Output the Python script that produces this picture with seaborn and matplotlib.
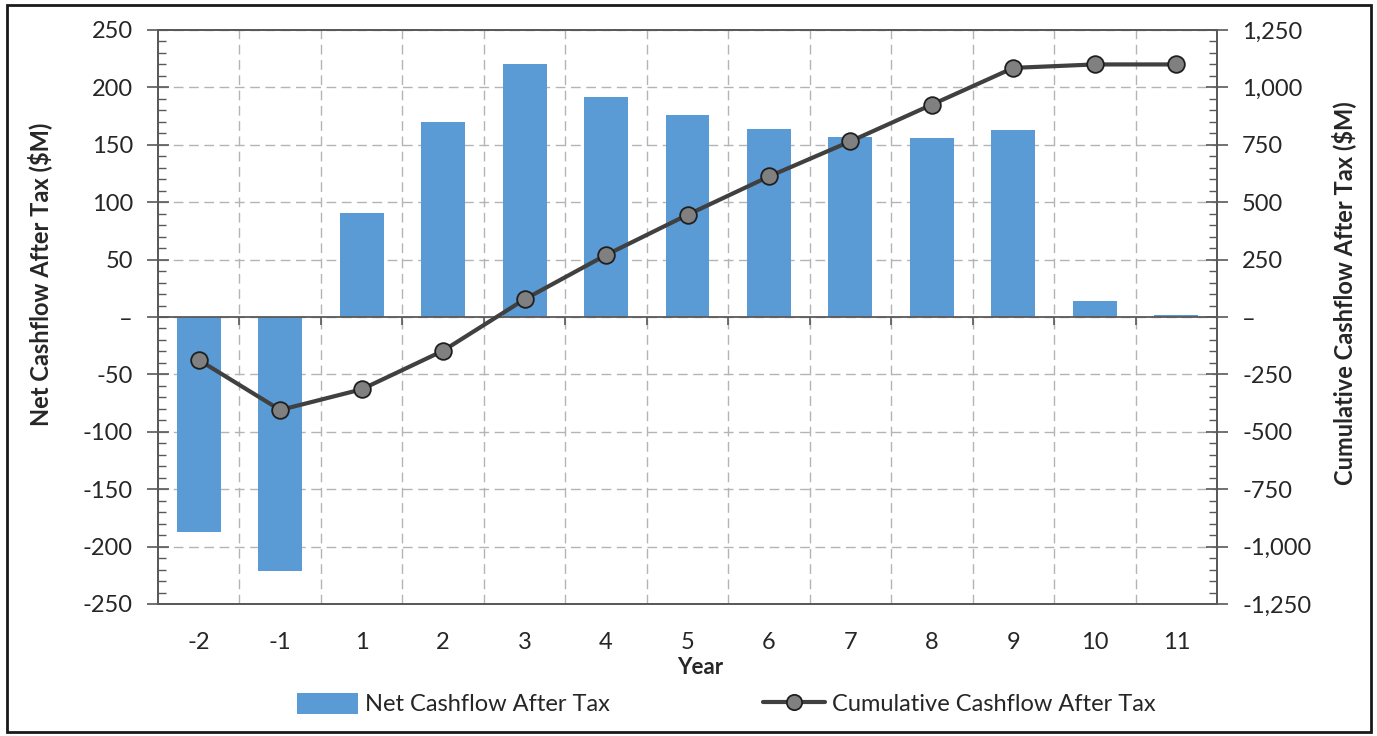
import matplotlib
matplotlib.use("Agg")
import matplotlib.pyplot as plt
import seaborn as sns
import pandas as pd
from matplotlib.ticker import FuncFormatter, MultipleLocator, FixedLocator
from matplotlib.patches import Rectangle, Patch
from matplotlib.lines import Line2D

# Project cash flows ($M)
years = ["-2", "-1", "1", "2", "3", "4", "5", "6", "7", "8", "9", "10", "11"]
net_cashflow = [-187, -221, 91, 170, 220, 192, 176, 164, 157, 156, 163, 14, 1.5]
cumulative_cashflow = [-187, -405, -315, -147, 77, 270, 445, 612, 765, 925, 1085, 1100, 1100]

BAR_COLOR = "#5B9BD5"
LINE_COLOR = "#404040"
AXIS_COLOR = "#595959"
TEXT_COLOR = "#262626"
GRID_COLOR = "#B4B4B4"

sns.set_style("white")
plt.rcParams["font.family"] = ["Lato", "DejaVu Sans"]
plt.rcParams["font.size"] = 16

df = pd.DataFrame({"Year": years, "Net": net_cashflow, "Cumulative": cumulative_cashflow})

W, H = 1377, 736
fig = plt.figure(figsize=(W / 100, H / 100), dpi=100)
ax = fig.add_axes([158 / W, 1 - 604 / H, (1217 - 158) / W, (604 - 30) / H])

sns.barplot(data=df, x="Year", y="Net", order=years, color=BAR_COLOR, saturation=1,
            width=0.54, linewidth=0, ax=ax, zorder=2)

ax2 = ax.twinx()
sns.pointplot(data=df, x="Year", y="Cumulative", order=years, ax=ax2, color=LINE_COLOR,
              markers="o", linestyles="-", linewidth=3, markersize=12,
              markerfacecolor="#808080", markeredgecolor="#1F1F1F", markeredgewidth=1.3,
              errorbar=None)

n = len(years)
boundaries = [i + 0.5 for i in range(n - 1)]

# axes limits and ticks
ax.set_xlim(-0.5, n - 0.5)
ax.set_ylim(-250, 250)
ax2.set_ylim(-1250, 1250)

ax.xaxis.set_major_locator(FixedLocator(range(n)))
ax.set_xticklabels(years)
ax.xaxis.set_minor_locator(FixedLocator(boundaries))
ax.tick_params(axis="x", which="both", length=0, pad=20, labelsize=17, labelcolor=TEXT_COLOR)

ax.yaxis.set_major_locator(MultipleLocator(50))
ax.yaxis.set_minor_locator(MultipleLocator(10))
ax2.yaxis.set_major_locator(MultipleLocator(250))
ax2.yaxis.set_minor_locator(MultipleLocator(50))


def left_fmt(v, _):
    return "\u2013" if abs(v) < 1e-9 else f"{v:.0f}"


def right_fmt(v, _):
    return "\u2013" if abs(v) < 1e-9 else f"{v:,.0f}"


ax.yaxis.set_major_formatter(FuncFormatter(left_fmt))
ax2.yaxis.set_major_formatter(FuncFormatter(right_fmt))

ax.tick_params(axis="y", which="major", direction="inout", length=16, width=1.2,
               color=AXIS_COLOR, pad=10, labelsize=17, labelcolor=TEXT_COLOR, left=True)
ax.tick_params(axis="y", which="minor", direction="in", length=6, width=1,
               color=AXIS_COLOR, left=True)
ax2.tick_params(axis="y", which="major", direction="inout", length=16, width=1.2,
                color=AXIS_COLOR, pad=10, labelsize=17, labelcolor=TEXT_COLOR, right=True)
ax2.tick_params(axis="y", which="minor", direction="in", length=6, width=1,
                color=AXIS_COLOR, right=True)
ax2.tick_params(axis="x", which="both", length=0)

# gridlines
ax.set_axisbelow(True)
dash = (0, (7, 4))
ax.yaxis.grid(True, which="major", color=GRID_COLOR, linestyle=dash, linewidth=1)
ax.xaxis.grid(True, which="minor", color=GRID_COLOR, linestyle=dash, linewidth=1)
ax.xaxis.grid(False, which="major")
ax2.grid(False)

# zero line with category separators
ax.axhline(0, color=AXIS_COLOR, linewidth=1.3, zorder=3)
ax.plot(boundaries, [0] * len(boundaries), linestyle="none", marker=3, markersize=6,
        color=AXIS_COLOR, markeredgewidth=1.2, zorder=3)

for a in (ax, ax2):
    for s in a.spines.values():
        s.set_color(AXIS_COLOR)
        s.set_linewidth(1.3)
        s.set_visible(True)

# axis titles
ax.set_xlabel("Year", fontsize=16, fontweight="bold", color=TEXT_COLOR)
ax.xaxis.set_label_coords((700 - 158) / (1217 - 158), (604 - 657) / 574)
ax.set_ylabel("Net Cashflow After Tax ($M)", fontsize=17, fontweight="bold", color=TEXT_COLOR)
ax.yaxis.set_label_coords((52 - 158) / (1217 - 158), (604 - 274) / 574)
ax2.set_ylabel("Cumulative Cashflow After Tax ($M)", fontsize=17, fontweight="bold",
               color=TEXT_COLOR)
ax2.yaxis.set_label_coords((1331 - 158) / (1217 - 158), (604 - 293) / 574)

# legend
handles = [
    Patch(facecolor=BAR_COLOR, edgecolor="none"),
    Line2D([], [], color=LINE_COLOR, linewidth=3, marker="o", markersize=11,
           markerfacecolor="#808080", markeredgecolor="#1F1F1F", markeredgewidth=1.3),
]
fig.legend(handles, ["Net Cashflow After Tax", "Cumulative Cashflow After Tax"],
           loc="center", bbox_to_anchor=(726 / W, 1 - 704 / H), ncol=2, frameon=False,
           fontsize=17, handlelength=2.6, handleheight=1.0, handletextpad=0.3,
           columnspacing=6.5, labelcolor=TEXT_COLOR)

# chart border
fig.patches.append(Rectangle((7 / W, 4 / H), (1371 - 7) / W, (731 - 4) / H,
                             transform=fig.transFigure, fill=False,
                             edgecolor="#1A1A1A", linewidth=2))

fig.savefig("out.png", dpi=100)
